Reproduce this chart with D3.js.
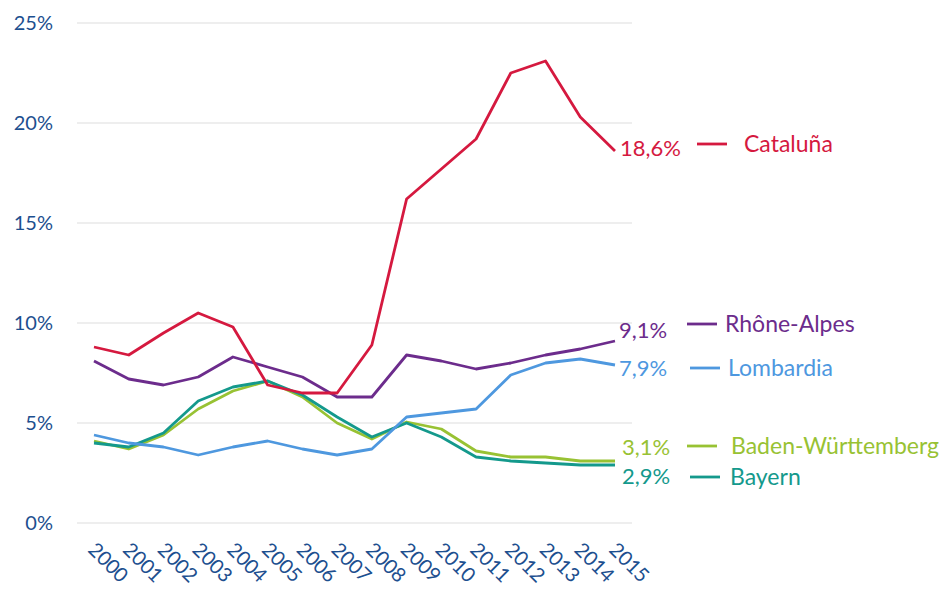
<!DOCTYPE html>
<html>
<head>
<meta charset="utf-8">
<script src="https://cdn.jsdelivr.net/npm/d3@7"></script>
<style>
  body { margin: 0; background: #fff; }
  text { font-family: Lato, "Open Sans", sans-serif; }
</style>
</head>
<body>
<div id="chart"></div>
<script>
// data
let years = [2000, 2001, 2002, 2003, 2004, 2005, 2006, 2007, 2008, 2009, 2010, 2011, 2012, 2013, 2014, 2015];
let yTicks = [0, 5, 10, 15, 20, 25];

let regions = ['Cataluña', 'Rhône-Alpes', 'Lombardia', 'Baden-Württemberg', 'Bayern'];
let cataluna = [8.8, 8.4, 9.5, 10.5, 9.8, 6.9, 6.5, 6.5, 8.9, 16.2, 17.7, 19.2, 22.5, 23.1, 20.3, 18.6];
let rhoneAlpes = [8.1, 7.2, 6.9, 7.3, 8.3, 7.8, 7.3, 6.3, 6.3, 8.4, 8.1, 7.7, 8.0, 8.4, 8.7, 9.1];
let lombardia = [4.4, 4.0, 3.8, 3.4, 3.8, 4.1, 3.7, 3.4, 3.7, 5.3, 5.5, 5.7, 7.4, 8.0, 8.2, 7.9];
let badenWue = [4.1, 3.7, 4.4, 5.7, 6.6, 7.1, 6.3, 5.0, 4.2, 5.05, 4.7, 3.6, 3.3, 3.3, 3.1, 3.1];
let bayern = [4.0, 3.8, 4.5, 6.1, 6.8, 7.1, 6.4, 5.3, 4.3, 5.0, 4.3, 3.3, 3.1, 3.0, 2.9, 2.9];
let endLabels = ['18,6%', '9,1%', '7,9%', '3,1%', '2,9%'];

let colors = ['#d5193f', '#6c2c8c', '#4e98df', '#98c233', '#14998c'];
let axisColor = '#1d4f8f';

let svgWidth = 941;
let svgHeight = 591;

let svg = d3.select('#chart').append('svg')
  .attr('width', svgWidth)
  .attr('height', svgHeight);

let xScale = d3.scaleLinear()
  .domain([2000, 2015])
  .range([94, 615]);

let yScale = d3.scaleLinear()
  .domain([0, 25])
  .range([523, 23]);

// gridlines
svg.append('g')
  .selectAll('line')
  .data(yTicks)
  .enter()
  .append('line')
  .attr('x1', 77)
  .attr('x2', 632)
  .attr('y1', d => yScale(d))
  .attr('y2', d => yScale(d))
  .attr('stroke', '#e8e8e8')
  .attr('stroke-width', 1.5);

// y labels
svg.append('g')
  .selectAll('text')
  .data(yTicks)
  .enter()
  .append('text')
  .attr('x', 53)
  .attr('y', d => yScale(d))
  .attr('dy', '0.35em')
  .attr('text-anchor', 'end')
  .attr('font-size', '20px')
  .attr('fill', axisColor)
  .text(d => d + '%');

// x labels, turned 45 degrees
svg.append('g')
  .selectAll('text')
  .data(years)
  .enter()
  .append('text')
  .attr('transform', d => `translate(${xScale(d) - 7}, 551) rotate(45)`)
  .attr('font-size', '20px')
  .attr('fill', axisColor)
  .text(d => d);

let seriesList = [cataluna, rhoneAlpes, lombardia, badenWue, bayern];

let line = d3.line()
  .x((d, i) => xScale(years[i]))
  .y(d => yScale(d));

// draw green before teal so teal sits on top where they touch
let drawOrder = [3, 4, 2, 1, 0];
drawOrder.forEach(function(k) {
  svg.append('path')
    .datum(seriesList[k])
    .attr('fill', 'none')
    .attr('stroke', colors[k])
    .attr('stroke-width', 2.8)
    .attr('stroke-linejoin', 'round')
    .attr('d', line);
});

// value labels and legend on the right
let labelY = [148, 330, 368, 447, 476];
let labelX = [620, 619, 619, 622, 622];
let keyX = [697, 687, 690, 687, 690];
let nameX = [744, 725, 728, 731, 730];
let keyY = [144, 324, 368, 446, 477];

regions.forEach(function(name, k) {
  svg.append('text')
    .attr('x', labelX[k])
    .attr('y', labelY[k])
    .attr('dy', '0.35em')
    .attr('font-size', '22px')
    .attr('fill', colors[k])
    .text(endLabels[k]);

  svg.append('line')
    .attr('x1', keyX[k])
    .attr('x2', keyX[k] + 30)
    .attr('y1', keyY[k])
    .attr('y2', keyY[k])
    .attr('stroke', colors[k])
    .attr('stroke-width', 2.8);

  svg.append('text')
    .attr('x', nameX[k])
    .attr('y', keyY[k])
    .attr('dy', '0.35em')
    .attr('font-size', '23px')
    .attr('fill', colors[k])
    .text(name);
});
</script>
</body>
</html>
